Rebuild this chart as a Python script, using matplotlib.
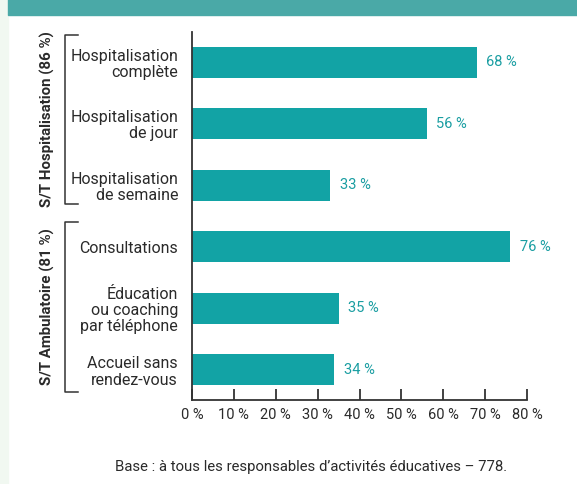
import matplotlib.pyplot as plt
from matplotlib.lines import Line2D
from matplotlib.patches import Rectangle

# Data
categories = ["Hospitalisation\ncomplète", "Hospitalisation\nde jour", "Hospitalisation\nde semaine",
              "Consultations", "Éducation\nou coaching\npar téléphone", "Accueil sans\nrendez-vous"]
values = [68, 56, 33, 76, 35, 34]
group_labels = ["S/T Hospitalisation (86 %)", "S/T Ambulatoire (81 %)"]
x_ticks = [0, 10, 20, 30, 40, 50, 60, 70, 80]
footnote = "Base : à tous les responsables d’activités éducatives – 778."

bar_color = '#12a3a5'
label_color = '#1a9ea2'
text_color = '#2a2a2a'
plt.rcParams['font.family'] = ['Roboto', 'DejaVu Sans']

W, H = 577, 484
fig = plt.figure(figsize=(W / 100, H / 100), dpi=100)

def fx(px):
    return px / W

def fy(py):
    return 1 - py / H

# background: light strip on the left, teal header on top
fig.patches.append(Rectangle((0, 0), fx(8), 1, transform=fig.transFigure,
                             color='#f1f8f1', zorder=0))
fig.patches.append(Rectangle((fx(8), fy(15)), 1, 1, transform=fig.transFigure,
                             color='#4aa9a7', zorder=0))

ax = fig.add_axes([fx(192), fy(400), fx(527) - fx(192), fy(32) - fy(400)])
ypos = list(range(len(categories)))
ax.barh(ypos, values, height=0.5, color=bar_color)
ax.set_xlim(0, 80)
ax.set_ylim(len(categories) - 0.51, -0.49)

for y, v in zip(ypos, values):
    ax.text(v + 2.3, y, f"{v} %", va='center', ha='left', color=label_color, fontsize=10.5)

ax.set_yticks(ypos)
ax.set_yticklabels(categories, fontsize=11.5, color=text_color)
ax.tick_params(axis='y', length=0, pad=10)
for lab in ax.get_yticklabels():
    lab.set_linespacing(1.1)

ax.set_xticks(x_ticks)
ax.set_xticklabels([f"{t} %" for t in x_ticks], fontsize=10.5, color=text_color)
ax.tick_params(axis='x', direction='in', length=8, width=1.3, color='#333333', pad=6)

for s in ['top', 'right']:
    ax.spines[s].set_visible(False)
for s in ['left', 'bottom']:
    ax.spines[s].set_linewidth(1.3)
    ax.spines[s].set_color('#333333')

# group brackets and labels (pixel extents of each bracket)
brackets = [(35, 204), (222, 392)]
for name, (top, bottom) in zip(group_labels, brackets):
    xs = [fx(78), fx(64.5), fx(64.5), fx(78)]
    ys = [fy(top), fy(top), fy(bottom), fy(bottom)]
    fig.add_artist(Line2D(xs, ys, transform=fig.transFigure, color='#333333', lw=1.1))
    fig.text(fx(47), fy((top + bottom) / 2), name, rotation=90, ha='center', va='center',
             fontsize=10.8, fontweight='bold', color=text_color)

fig.text(fx(311), fy(467), footnote, ha='center', va='center', fontsize=10.7, color=text_color)

fig.savefig('out.png', dpi=100, facecolor='white')
